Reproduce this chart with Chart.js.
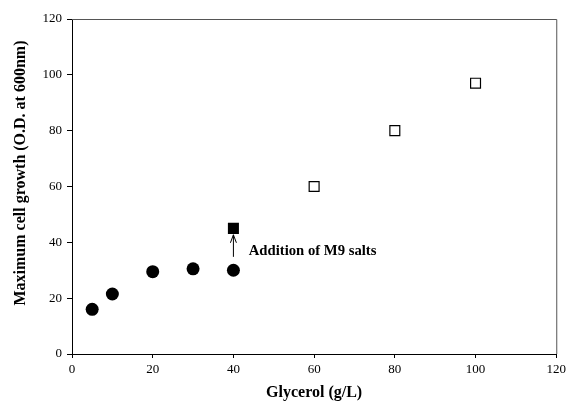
<!DOCTYPE html>
<html>
<head>
<meta charset="utf-8">
<script src="https://cdn.jsdelivr.net/npm/chart.js@4"></script>
<style>
  body { margin: 0; background: #fff; }
  canvas { display: block; }
</style>
</head>
<body>
<canvas id="growthChart" width="570" height="403"></canvas>
<script>
// Glycerol batches without salts (filled circles)
var glycerolBase = [5, 10, 20, 30, 40];
var growthBase = [16, 21.5, 29.5, 30.5, 30];
// Same 40 g/L batch after adding M9 salts (filled square)
var glycerolSalts = [40];
var growthSalts = [45];
// Higher glycerol runs (open squares)
var glycerolHigh = [60, 80, 100];
var growthHigh = [60, 80, 97];

var xTicks = [0, 20, 40, 60, 80, 100, 120];
var yTicks = [0, 20, 40, 60, 80, 100, 120];

var yTitle = 'Maximum cell growth (O.D. at 600nm)';

// Annotation arrow in data units
var arrowX = 40, arrowFrom = 34.8, arrowTo = 42.7;
var noteText = 'Addition of M9 salts';
var noteX = 43.8, noteY = 36.7;

function toPoints(xs, ys) {
    return xs.map(function(x, i) { return { x: x, y: ys[i] }; });
}

var serif = "'Liberation Serif', 'Times New Roman', serif";

// Frame on top/right, y title, and the arrow with its label
var annotationPlugin = {
    id: 'annotation',
    afterDatasetsDraw: function(chart) {
        var ctx = chart.ctx;
        var area = chart.chartArea;
        var xs = chart.scales.x, ys = chart.scales.y;
        ctx.save();
        ctx.strokeStyle = '#555';
        ctx.lineWidth = 1;
        ctx.beginPath();
        ctx.moveTo(area.left, area.top + 0.5);
        ctx.lineTo(area.right + 0.5, area.top + 0.5);
        ctx.lineTo(area.right + 0.5, area.bottom);
        ctx.stroke();

        var px = xs.getPixelForValue(arrowX);
        var y0 = ys.getPixelForValue(arrowFrom);
        var y1 = ys.getPixelForValue(arrowTo);
        ctx.strokeStyle = '#000';
        ctx.beginPath();
        ctx.moveTo(px, y0);
        ctx.lineTo(px, y1);
        ctx.moveTo(px - 3, y1 + 8);
        ctx.lineTo(px, y1);
        ctx.lineTo(px + 3, y1 + 8);
        ctx.stroke();

        ctx.fillStyle = '#000';
        ctx.font = 'bold 14.7px ' + serif;
        ctx.textAlign = 'left';
        ctx.textBaseline = 'middle';
        ctx.fillText(noteText, xs.getPixelForValue(noteX), ys.getPixelForValue(noteY));

        // y axis title, a bit above the plot centre like the original
        ctx.translate(21, 173);
        ctx.rotate(-Math.PI / 2);
        ctx.font = 'bold 16px ' + serif;
        ctx.textAlign = 'center';
        ctx.fillText(yTitle, 0, 0);
        ctx.restore();
    }
};

var ctx = document.getElementById('growthChart').getContext('2d');
var growthChart = new Chart(ctx, {
    type: 'scatter',
    data: {
        datasets: [{
            label: 'Glycerol',
            data: toPoints(glycerolBase, growthBase),
            pointStyle: 'circle',
            pointRadius: 6.5,
            backgroundColor: '#000',
            borderColor: '#000',
            borderWidth: 0
        }, {
            label: 'With M9 salts',
            data: toPoints(glycerolSalts, growthSalts),
            pointStyle: 'rect',
            pointRadius: 7.8,
            backgroundColor: '#000',
            borderColor: '#000',
            borderWidth: 0
        }, {
            label: 'High glycerol',
            data: toPoints(glycerolHigh, growthHigh),
            pointStyle: 'rect',
            pointRadius: 7,
            backgroundColor: '#fff',
            borderColor: '#000',
            borderWidth: 1.2
        }]
    },
    options: {
        responsive: false,
        animation: false,
        layout: { padding: { left: 0, top: 19, right: 11, bottom: 0 } },
        plugins: {
            legend: { display: false },
            tooltip: { enabled: false }
        },
        scales: {
            x: {
                type: 'linear',
                min: 0,
                max: 120,
                afterFit: function(scale) { scale.height = 49; },
                afterBuildTicks: function(scale) {
                    scale.ticks = xTicks.map(function(v) { return { value: v }; });
                },
                grid: { drawOnChartArea: false, drawTicks: true, tickLength: 4, color: '#000' },
                border: { display: true, color: '#000', width: 1 },
                ticks: {
                    padding: 4,
                    color: '#000',
                    font: { family: serif, size: 13 }
                },
                title: {
                    display: true,
                    text: 'Glycerol (g/L)',
                    color: '#000',
                    font: { family: serif, size: 16, weight: 'bold' },
                    padding: { top: 0, bottom: 1 }
                }
            },
            y: {
                type: 'linear',
                min: 0,
                max: 120,
                afterFit: function(scale) { scale.width = 72; },
                afterBuildTicks: function(scale) {
                    scale.ticks = yTicks.map(function(v) { return { value: v }; });
                },
                grid: { drawOnChartArea: false, drawTicks: true, tickLength: 5, color: '#000' },
                border: { display: true, color: '#000', width: 1 },
                ticks: {
                    padding: 5,
                    color: '#000',
                    font: { family: serif, size: 13 }
                },
                title: { display: false }
            }
        }
    },
    plugins: [annotationPlugin]
});
</script>
</body>
</html>
